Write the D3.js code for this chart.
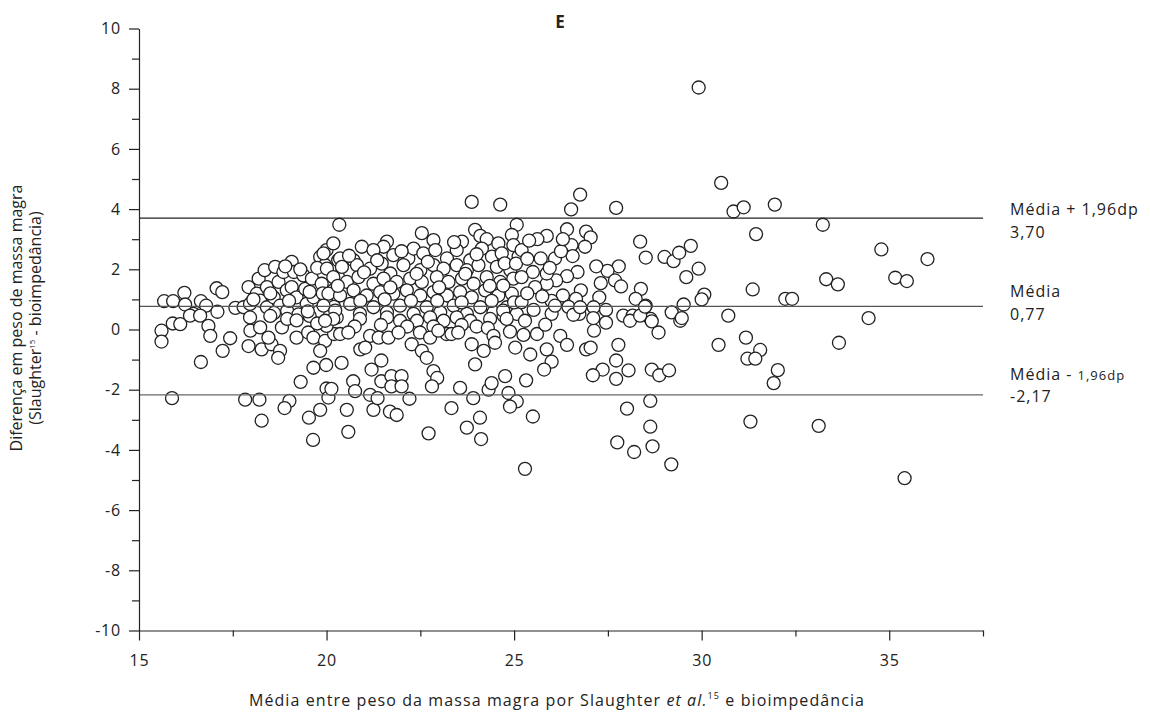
<!DOCTYPE html>
<html>
<head>
<meta charset="utf-8">
<title>Bland-Altman E</title>
<script src="https://d3js.org/d3.v7.min.js"></script>
<style>
body { margin: 0; background: #fff; }
svg text { font-family: "Open Sans", sans-serif; fill: #222; }
.dot { fill: #fff; stroke: #222; stroke-width: 1.3; }
.axis path, .axis line { stroke: #222; stroke-width: 1.2; }
</style>
</head>
<body>
<script>
// [media, diferenca] pairs
var leftCluster = [
  [15.67,0.94],[15.91,0.94],[16.21,1.22],[16.23,0.83],[16.45,0.52],[16.65,0.94],[16.79,0.79],[17.07,1.37],
  [17.22,1.24],[17.09,0.59],[17.57,0.72],[17.79,0.74],[17.92,1.41],[17.96,0.85],[18.14,1.19],[18.19,1.69],
  [18.35,1.97],[18.23,0.96],[18.41,1.41],[18.41,0.74],[18.63,2.08],[18.59,1.07],[18.72,1.58],[18.85,1.91],
  [18.76,0.79],[18.94,1.30],[19.07,2.25],[19.13,1.91],[19.07,1.41],[19.20,1.07],[19.38,1.80],[19.43,1.35],
  [19.47,0.85],[19.61,1.69],[19.65,1.07],[19.83,2.41],[19.87,1.52],[19.96,2.14],[20.00,2.64],[20.00,0.91],
  [20.13,1.97],[20.18,2.86],[20.18,1.30],[20.31,2.30],[20.34,3.48],[20.31,1.74],
  [18.05,1.00],[18.60,0.55],[18.95,0.62],[19.25,0.50],[19.80,0.60],[19.55,0.45],[20.10,0.55],[19.00,0.95],
  [19.90,1.20],[20.20,0.75],[18.90,2.10],[19.30,2.00],[19.75,2.05],[19.55,1.25],[18.50,1.20],
  [15.60,-0.04],[15.60,-0.40],[15.90,0.20],[16.10,0.18],[16.36,0.46],[16.63,0.46],[16.85,0.12],[16.90,-0.21],
  [17.43,-0.29],[17.23,-0.71],[16.65,-1.08],[15.88,-2.28],[17.97,-0.04],[17.92,-0.55],[18.27,-0.66],[18.53,-0.49],
  [18.76,-0.71],[18.71,-0.94],[18.23,0.07],[18.45,-0.27],[18.81,0.07],[19.20,-0.27],[19.51,-0.10],[19.65,-0.27],
  [19.96,-0.38],[19.83,-0.71],[19.65,-1.27],[19.99,-1.18],[19.31,-1.74],[20.00,-1.96],[20.05,-2.26],[17.83,-2.33],
  [18.21,-2.33],[19.01,-2.37],[18.88,-2.61],[19.83,-2.67],[19.53,-2.93],[18.27,-3.03],[19.64,-3.67],[17.96,0.40],
  [20.20,-0.15],[20.00,0.12],[20.27,0.40],[18.50,0.45],[18.95,0.35],[19.20,0.30],[19.50,0.60],[19.75,0.20]
];

var coreCluster = [
  [22.54,3.20],[23.96,3.31],[25.07,3.48],[20.94,2.75],[21.61,2.92],[21.52,2.75],[22.85,2.97],[23.61,2.92],
  [24.10,3.11],[24.27,3.00],[24.58,2.86],[24.94,3.14],
  [19.92,2.53],[20.36,2.36],[20.72,2.30],[21.25,2.64],[21.78,2.47],[22.18,2.36],[22.32,2.69],[22.58,2.53],
  [22.90,2.64],[23.21,2.36],[23.47,2.64],[23.83,2.30],[24.14,2.69],[24.41,2.42],[24.67,2.53],[24.98,2.80],[25.12,2.42],
  [20.01,2.02],[20.41,2.08],[20.81,2.14],[21.16,2.02],[21.47,2.19],[21.70,1.86],[22.05,2.14],[22.50,1.97],
  [22.85,2.14],[23.12,2.02],[23.47,2.14],[23.74,1.97],[24.05,2.14],[24.54,2.08],[24.90,1.97],
  [20.18,1.74],[20.54,1.58],[20.85,1.74],[21.25,1.52],[21.52,1.69],[21.87,1.58],[22.23,1.69],[22.54,1.58],
  [22.94,1.74],[23.25,1.58],[23.61,1.69],[23.92,1.52],[24.27,1.74],[24.63,1.58],[24.98,1.69],
  [20.05,1.19],[20.36,1.13],[20.72,1.30],[21.07,1.13],[21.43,1.24],[21.78,1.19],[22.14,1.30],[22.50,1.13],
  [22.85,1.24],[23.21,1.13],[23.56,1.24],[23.87,1.07],[24.23,1.30],[24.58,1.13],[24.94,1.19],
  [19.92,0.79],[20.23,0.63],[20.63,0.85],[20.89,0.52],[21.25,0.74],[21.61,0.57],[21.96,0.79],[22.32,0.52],
  [22.67,0.74],[23.03,0.57],[23.39,0.79],[23.74,0.52],[24.10,0.74],[24.45,0.57],[24.81,0.74],[25.07,0.52],
  [20.60,2.45],[21.35,2.30],[22.00,2.60],[22.70,2.25],[23.40,2.90],[24.00,2.50],[24.75,2.20],[20.30,1.45],
  [21.00,1.90],[21.70,1.40],[22.40,1.85],[23.00,1.40],[23.70,1.85],[24.35,1.45],[20.90,0.95],[21.55,1.00],
  [22.25,0.95],[22.95,0.95],[23.60,0.90],[24.40,0.95],[25.00,0.90]
];

var lowerCluster = [
  [20.18,0.35],[20.89,0.35],[21.61,0.40],[21.96,0.29],[22.41,0.29],[22.76,0.40],[23.12,0.29],[23.47,0.40],
  [23.83,0.29],[24.36,0.35],[24.72,0.46],[24.00,0.10],[19.96,0.29],
  [20.75,0.10],[21.45,0.15],[22.15,0.10],[22.85,0.10],[23.60,0.15],[24.30,0.05],
  [20.36,-0.15],[20.58,-0.10],[21.16,-0.21],[21.39,-0.27],[21.65,-0.27],[21.92,-0.10],[22.49,-0.10],[22.76,-0.27],
  [23.20,-0.15],[22.98,-0.04],[23.33,-0.15],[23.51,-0.10],[24.45,-0.21],
  [23.87,-0.49],[24.19,-0.71],[24.49,-0.44],[25.03,-0.60],[20.90,-0.66],[21.03,-0.60],[22.27,-0.49],[22.54,-0.71],
  [22.67,-0.94],[20.40,-1.11],[20.71,-1.72],[20.76,-2.05],[20.13,-1.97],[20.54,-2.67],[20.58,-3.40],[21.25,-2.67],
  [21.16,-2.17],[21.36,-2.28],[21.20,-1.33],[21.46,-1.03],[21.46,-1.72],[21.73,-1.55],[22.00,-1.55],[21.73,-1.89],
  [22.00,-1.89],[21.69,-2.73],[21.87,-2.84],[22.21,-2.30],[22.85,-1.38],[22.95,-1.61],[22.81,-1.89],[22.72,-3.45],
  [23.33,-2.61],[23.56,-1.94],[23.91,-2.28],[23.74,-3.26],[24.09,-2.93],[24.12,-3.64],[24.32,-2.00],[24.40,-1.78],
  [24.76,-1.55],[24.85,-2.11],[25.07,-2.39],[24.89,-2.56],[23.96,-1.16]
];

var rightCluster = [
  [26.76,4.48],[26.52,3.99],[27.72,4.04],[26.41,3.33],[26.92,3.25],[27.04,3.06],[26.89,2.75],[26.53,2.80],
  [26.56,2.44],[25.87,3.11],[25.62,3.00],[28.36,2.92],[28.51,2.39],[29.01,2.41],[29.25,2.27],[29.40,2.55],
  [29.71,2.78],[29.92,2.02],[29.59,1.74],[29.52,0.83],[29.20,0.57],[28.38,1.35],[28.24,1.02],[28.51,0.79],
  [28.64,0.35],[27.79,2.10],[27.49,1.95],[27.19,2.10],[27.31,1.54],[27.69,1.63],[27.85,1.43],[27.27,1.07],
  [27.12,0.74],[27.45,0.65],[27.91,0.46],[28.16,0.46],[26.69,1.91],[26.78,1.30],[26.65,1.02],[26.41,1.77],
  [26.12,1.63],[26.30,1.13],[26.09,2.36],[25.71,2.36],[25.20,2.64],[25.05,2.19],[25.50,1.91],[25.20,1.74],
  [25.87,1.52],[25.56,1.41],[24.71,1.46],[25.20,0.91],[25.52,0.65],[26.00,0.52],[24.71,0.63],[26.74,0.52],
  [25.87,1.86],[25.95,2.05],[26.25,2.60],[25.35,1.20],[26.00,0.95],[25.75,1.10],[26.45,0.75],[25.35,2.35],
  [26.30,3.00],[25.40,2.95],
  [26.58,0.49],[27.13,-0.04],[27.45,0.23],[27.11,0.38],[28.09,0.29],[28.36,0.46],[28.49,0.76],[28.67,0.27],
  [28.85,-0.10],[29.43,0.29],[27.78,-0.51],[27.72,-1.03],[28.05,-1.36],[27.72,-1.64],[27.36,-1.33],[27.10,-1.52],
  [28.67,-1.33],[28.87,-1.52],[29.13,-1.36],[28.63,-2.37],[28.01,-2.63],[28.63,-3.23],[27.75,-3.75],[28.20,-4.07],
  [28.69,-3.88],[29.19,-4.48],[25.29,-4.63],[25.50,-2.89],[25.32,-1.69],[25.43,-0.83],[25.87,-0.66],[26.00,-1.07],
  [25.80,-1.33],[26.23,-0.21],[26.41,-0.51],[26.92,-0.66],[27.04,-0.60],[25.61,-0.15],[25.25,-0.18],[24.89,-0.07],
  [24.80,0.35],[25.29,0.29],[25.83,0.16],[26.09,0.79],[26.76,0.74]
];

var outliers = [
  [23.87,4.24],[24.63,4.15],[29.92,8.04],[30.52,4.87],[30.85,3.92],[31.12,4.06],[31.95,4.15],[33.23,3.48],
  [31.45,3.17],[34.79,2.66],[36.02,2.34],[35.16,1.72],[35.47,1.61],[33.32,1.67],[33.63,1.50],[31.36,1.33],
  [30.07,1.16],[30.00,1.00],[32.23,1.02],[32.41,1.02],[30.71,0.46],[34.45,0.38],[29.47,0.38],[30.45,-0.51],
  [31.18,-0.27],[31.56,-0.68],[31.22,-0.97],[31.43,-0.97],[32.03,-1.35],[31.92,-1.78],[33.66,-0.44],[31.30,-3.06],
  [33.12,-3.20],[35.41,-4.94]
];

var limitValues = [3.70, 0.77, -2.17];
var limitColors = ["#222", "#555", "#666"];
var xMajorTicks = [15, 20, 25, 30, 35];
var xMinorTicks = [17.5, 22.5, 27.5, 32.5, 37.5];
var yMajorTicks = [-10, -8, -6, -4, -2, 0, 2, 4, 6, 8, 10];
var yMinorTicks = [-9, -7, -5, -3, -1, 1, 3, 5, 7, 9];

var points = leftCluster.concat(coreCluster, lowerCluster, rightCluster, outliers);

var svg = d3.select("body").append("svg")
    .attr("width", 1150)
    .attr("height", 719);

var x = d3.scaleLinear().domain([15, 37.5]).range([139, 983]);
var y = d3.scaleLinear().domain([-10, 10]).range([630.5, 28.5]);

// points
svg.selectAll("circle.dot")
    .data(points)
    .enter()
    .append("circle")
    .attr("class", "dot")
    .attr("cx", function(d) { return x(d[0]); })
    .attr("cy", function(d) { return y(d[1]); })
    .attr("r", 6.5);

// mean and limits of agreement
svg.selectAll("line.limit")
    .data(limitValues)
    .enter()
    .append("line")
    .attr("class", "limit")
    .attr("x1", x(15))
    .attr("x2", x(37.5))
    .attr("y1", function(d) { return y(d); })
    .attr("y2", function(d) { return y(d); })
    .attr("stroke", function(d, i) { return limitColors[i]; })
    .attr("stroke-width", 1.3);

// axes
var yAxis = svg.append("g")
    .attr("class", "axis")
    .attr("transform", "translate(" + x(15) + ",0)")
    .call(d3.axisLeft(y).tickValues(yMajorTicks).tickSize(10).tickSizeOuter(0).tickPadding(8)
      .tickFormat(function(d) { return String(d); }));
yAxis.selectAll("text").style("font-size", "16px").style("letter-spacing", "0.8px");

svg.append("g")
    .attr("class", "axis")
    .attr("transform", "translate(" + x(15) + ",0)")
    .call(d3.axisLeft(y).tickValues(yMinorTicks).tickSize(7).tickFormat(""))
    .select(".domain").remove();

var xAxis = svg.append("g")
    .attr("class", "axis")
    .attr("transform", "translate(0," + y(-10) + ")")
    .call(d3.axisBottom(x).tickValues(xMajorTicks).tickSize(10).tickSizeOuter(0).tickPadding(14));
xAxis.selectAll("text").style("font-size", "16px").style("letter-spacing", "0.8px");

svg.append("g")
    .attr("class", "axis")
    .attr("transform", "translate(0," + y(-10) + ")")
    .call(d3.axisBottom(x).tickValues(xMinorTicks).tickSize(6).tickFormat(""))
    .select(".domain").remove();

// title
svg.append("text")
    .attr("x", 560)
    .attr("y", 28)
    .attr("text-anchor", "middle")
    .style("font-size", "17px")
    .style("font-weight", "bold")
    .text("E");

// x axis title
var xt = svg.append("text")
    .attr("x", 557)
    .attr("y", 706)
    .attr("text-anchor", "middle")
    .style("font-size", "16px")
    .style("letter-spacing", "1.1px");
xt.append("tspan").text("Média entre peso da massa magra por Slaughter ");
xt.append("tspan").style("font-style", "italic").text("et al.");
xt.append("tspan").attr("dy", -7).style("font-size", "9px").text("15");
xt.append("tspan").attr("dy", 7).text(" e bioimpedância");

// y axis title
var yt = svg.append("g").attr("transform", "translate(0,318) rotate(-90)");
yt.append("text")
    .attr("x", 0).attr("y", 22)
    .attr("text-anchor", "middle")
    .style("font-size", "16px")
    .text("Diferença em peso de massa magra");
var yt2 = yt.append("text")
    .attr("x", 0).attr("y", 41)
    .attr("text-anchor", "middle")
    .style("font-size", "16px");
yt2.append("tspan").text("(Slaughter");
yt2.append("tspan").attr("dy", -6).style("font-size", "8px").text("15");
yt2.append("tspan").attr("dy", 6).text(" - bioimpedância)");

// right labels
var lab1 = svg.append("text").attr("x", 1010).attr("y", 215)
    .style("font-size", "16px").style("letter-spacing", "1px");
lab1.append("tspan").text("Média + 1,96dp");
lab1.append("tspan").attr("x", 1010).attr("dy", 23).text("3,70");

var lab2 = svg.append("text").attr("x", 1010).attr("y", 297)
    .style("font-size", "16px").style("letter-spacing", "1px");
lab2.append("tspan").text("Média");
lab2.append("tspan").attr("x", 1010).attr("dy", 23).text("0,77");

var lab3 = svg.append("text").attr("x", 1010).attr("y", 380)
    .style("font-size", "16px").style("letter-spacing", "1px");
lab3.append("tspan").text("Média - ");
lab3.append("tspan").style("font-size", "13px").text("1,96dp");
lab3.append("tspan").attr("x", 1010).attr("dy", 22).text("-2,17");
</script>
</body>
</html>
